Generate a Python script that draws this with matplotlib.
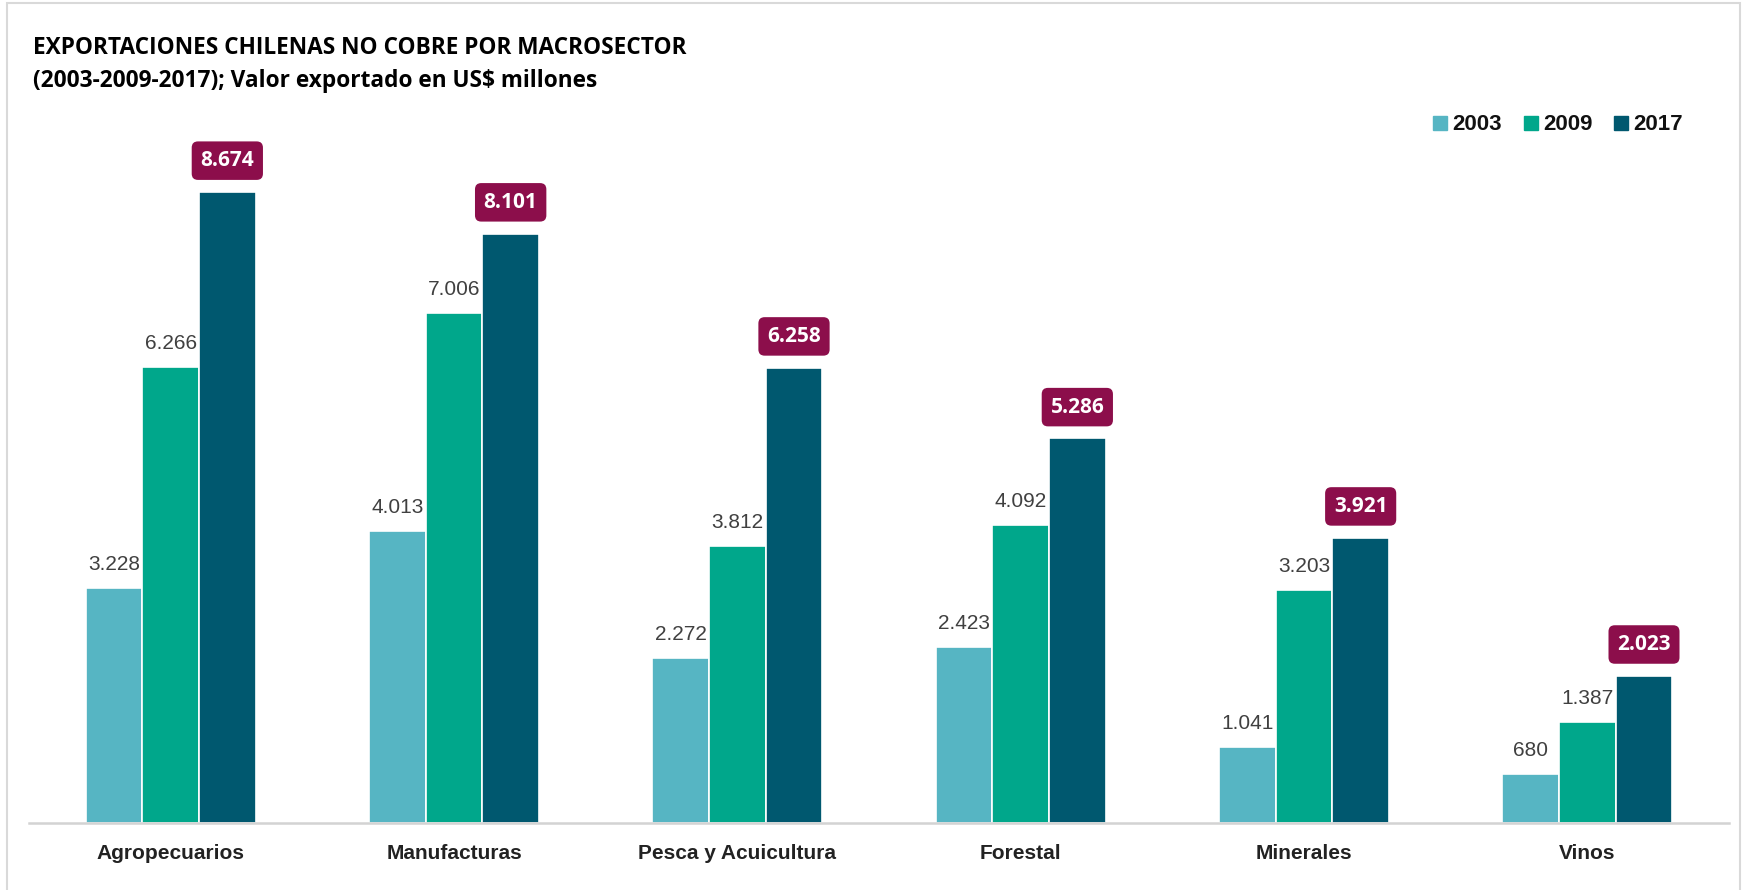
import numpy as np
import matplotlib.pyplot as plt
from matplotlib.patches import Rectangle

categories = ["Agropecuarios", "Manufacturas", "Pesca y Acuicultura",
              "Forestal", "Minerales", "Vinos"]
years = ["2003", "2009", "2017"]
v2003 = [3228, 4013, 2272, 2423, 1041, 680]
v2009 = [6266, 7006, 3812, 4092, 3203, 1387]
v2017 = [8674, 8101, 6258, 5286, 3921, 2023]
colors = ["#56B5C3", "#00A78B", "#00586F"]
box_color = "#8C0E4B"
narrow = ["Liberation Sans Narrow", "Liberation Sans"]

fig = plt.figure(figsize=(17.43, 8.9), dpi=100)
ax = fig.add_axes([29/1743, 67/890, 1700/1743, 713/890])

x = np.arange(len(categories))
w = 0.2
series = [v2003, v2009, v2017]
for i, (vals, c) in enumerate(zip(series, colors)):
    bars = ax.bar(x + (i - 1) * w, vals, width=w, color=c,
                  edgecolor="white", linewidth=1.2, label=years[i], zorder=2)
    for b, v in zip(bars, vals):
        txt = f"{v:,}".replace(",", ".")
        cx = b.get_x() + b.get_width() / 2
        if i < 2:
            ax.annotate(txt, (cx, v), xytext=(0, 10), textcoords="offset points",
                        ha="center", va="bottom", fontsize=15,
                        family=narrow, color="#404040")
        else:
            ax.annotate(txt, (cx, v), xytext=(0, 15), textcoords="offset points",
                        ha="center", va="bottom", fontsize=15, fontweight="bold",
                        family="Open Sans", color="white",
                        bbox=dict(boxstyle="round,pad=0.42,rounding_size=0.3",
                                  fc=box_color, ec="none"))

ax.set_xlim(-0.5, 5.5)
ax.set_ylim(0, 9801)
ax.set_yticks([])
ax.set_xticks(x)
ax.set_xticklabels(categories, fontsize=15, fontweight="bold",
                   family=narrow, color="#222222")
ax.tick_params(axis="x", length=0, pad=15)
for s in ["top", "right", "left"]:
    ax.spines[s].set_visible(False)
ax.spines["bottom"].set_color("#D3D3D3")
ax.spines["bottom"].set_linewidth(1.8)

# legend
leg_x = [1433, 1524, 1614]
for lx, c, y in zip(leg_x, colors, years):
    fig.patches.append(Rectangle((lx/1743, 1 - 130/890), 14/1743, 14/890,
                                 transform=fig.transFigure, color=c))
    fig.text((lx + 19)/1743, 1 - 124/890, y, fontsize=16, fontweight="bold",
             family=narrow, va="center", ha="left", color="#111111")

fig.text(33/1743, 1 - 48/890, "EXPORTACIONES CHILENAS NO COBRE POR MACROSECTOR",
         fontsize=16.3, fontweight="bold", family="Open Sans", va="center")
fig.text(33/1743, 1 - 81/890, "(2003-2009-2017); Valor exportado en US$ millones",
         fontsize=16.3, fontweight="bold", family="Open Sans", va="center")

# outer frame
fig.patches.append(Rectangle((7/1743, -0.01), 1733/1743, 1 - 3/890 + 0.01,
                             transform=fig.transFigure, fill=False,
                             ec="#D9D9D9", lw=1.5))

fig.savefig("out.png", dpi=100)
